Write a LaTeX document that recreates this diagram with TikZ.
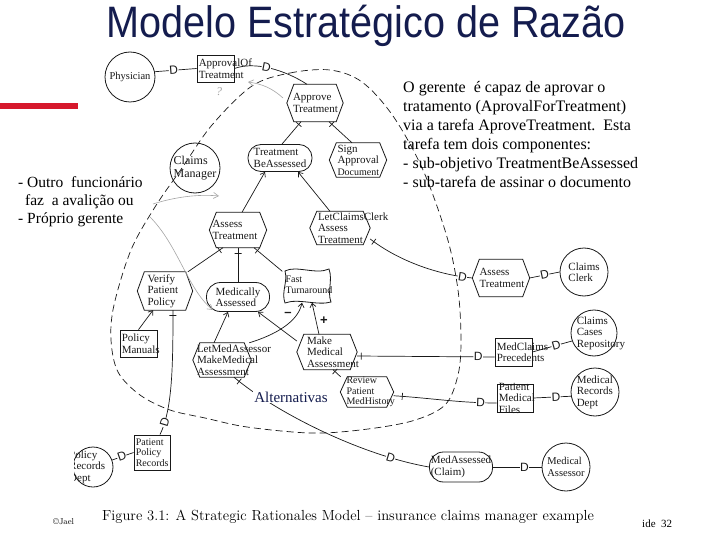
\documentclass[tikz,border=0pt]{standalone}
\usepackage{fontspec}
\usepackage{graphicx}
\newfontfamily\tms{Liberation Serif}
\newfontfamily\arial{Liberation Sans}
\usetikzlibrary{arrows.meta}
\definecolor{navy}{RGB}{20,28,78}
\definecolor{redbar}{RGB}{214,24,44}
\definecolor{ink}{RGB}{25,25,25}
\definecolor{pencil}{RGB}{165,165,165}
\newcommand\hexa[5]{%
  \node[minimum width=#4pt, minimum height=#5pt, inner sep=0pt] (#1) at (#2,#3) {};
  \draw[shp] (#1.west) -- ([xshift=7pt]#1.north west) -- ([xshift=-7pt]#1.north east) -- (#1.east) -- ([xshift=-7pt]#1.south east) -- ([xshift=7pt]#1.south west) -- cycle;}
\begin{document}
\begin{tikzpicture}[x=1pt, y=-1pt,
  shp/.style={draw=ink, line width=0.8pt},
  lab/.style={font=\fontsize{11}{11.5}\selectfont\tms, align=left, text=ink, inner sep=0pt},
  lab10/.style={lab, font=\fontsize{10}{10.5}\selectfont\tms},
  conn/.style={draw=ink, line width=0.7pt},
  me/.style={conn, -{Straight Barb[length=4pt, width=6pt]}},
  dtick/.style={sloped, draw=ink, line width=0.7pt, minimum width=0pt, minimum height=7pt, inner sep=0pt},
  dmark/.style={sloped, font=\fontsize{12}{12}\selectfont\arial, fill=white, inner sep=0.4pt, text=ink},
  bound/.style={draw=ink, line width=0.7pt, dash pattern=on 7pt off 4pt},
  pencilarrow/.style={draw=pencil, line width=0.6pt, -{Straight Barb[length=5pt, width=6pt]}},
]
\useasboundingbox (0,0) rectangle (720,540);
\fill[white] (0,0) rectangle (720,540);

% title and red bar
\node[anchor=base, text=navy, inner sep=0pt] (title) at (366,38) {\scalebox{0.9}[1]{\fontsize{44}{44}\selectfont\arial Modelo Estratégico de Razão}};
\fill[redbar] (0,103) rectangle (78,109);

% boundary of Claims Manager
\draw[bound] plot[smooth cycle, tension=0.55] coordinates {(252,86) (290,73) (330,70) (362,82) (393,116) (423,170) (447,237) (458,290) (461,340) (458,375) (445,405) (412,421) (360,430) (310,433) (247,427) (205,418) (170,410) (140,395) (118,372) (111,340) (114,305) (131,250) (155,207) (182,168) (212,125)};

% actors
\node[shp, circle, minimum size=50pt] (phys) at (130,77) {};
\node[lab, font=\fontsize{10.5}{11}\selectfont\tms] (phys-t) at (phys) {Physician};
\node[shp, circle, minimum size=50pt] (cm) at (195,168) {};
\node[lab, font=\fontsize{12}{13}\selectfont\tms] (cm-t) at (cm) {Claims\\Manager};
\node[shp, circle, minimum size=48pt] (cc) at (584,272) {};
\node[lab] (cc-t) at (cc) {Claims\\Clerk};
\node[shp, circle, minimum size=46pt] (ccr) at (594,333) {};
\node[lab, anchor=west] (ccr-t) at ([xshift=6pt]ccr.west) {Claims\\Cases\\Repository};
\node[shp, circle, minimum size=48pt] (mrd) at (595,392) {};
\node[lab, anchor=west] (mrd-t) at ([xshift=6pt]mrd.west) {Medical\\Records\\Dept};
\node[shp, circle, minimum size=48pt] (ma) at (566,467) {};
\node[lab, font=\fontsize{10.5}{11.5}\selectfont\tms] (ma-t) at (ma) {Medical\\Assessor};
\begin{scope}
\clip (74,0) rectangle (720,540);
\node[shp, circle, minimum size=40pt] (prd) at (93,467) {};
\node[lab, anchor=west] (prd-t) at (69,467) {Policy\\Records\\Dept};
\end{scope}

% goals
\node[shp, rounded corners=13pt, minimum width=64pt, minimum height=27pt] (tba) at (280,158) {};
\node[lab] (tba-t) at (tba) {Treatment\\BeAssessed};
\node[shp, rounded corners=14pt, minimum width=63pt, minimum height=29pt] (mas) at (238,297) {};
\node[lab] (mas-t) at (mas) {Medically\\Assessed};
\node[shp, rounded corners=14pt, minimum width=63pt, minimum height=30pt] (mac) at (461,467) {};
\node[lab] (mac-t) at (mac) {MedAssessed\\(Claim)};

% tasks
\hexa{apt}{315}{103}{56}{37}
\node[lab, anchor=west] (apt-t) at ([xshift=6pt]apt.west) {Approve\\Treatment};
\hexa{sad}{358}{160}{57}{34}
\node[lab, anchor=west] (sad-t) at ([xshift=8pt]sad.west) {Sign\\Approval\\{\fontsize{10}{10}\selectfont Document}};
\hexa{ati}{238}{230}{57}{35}
\node[lab, anchor=west] (ati-t) at ([xshift=3pt]ati.west) {Assess\\Treatment};
\hexa{lcc}{340}{228}{60}{33}
\node[lab, anchor=west] (lcc-t) at ([xshift=8pt]lcc.west) {LetClaimsClerk\\Assess\\Treatment};
\hexa{ate}{501}{278}{57}{37}
\node[lab, anchor=west] (ate-t) at ([xshift=7pt]ate.west) {Assess\\Treatment};
\hexa{vpp}{165}{291}{55}{38}
\node[lab, anchor=west] (vpp-t) at ([xshift=10pt]vpp.west) {Verify\\Patient\\Policy};
\hexa{lma}{222}{360}{58}{34}
\node[lab, anchor=west] (lma-t) at ([xshift=4pt]lma.west) {LetMedAssessor\\MakeMedical\\Assessment};
\hexa{mma}{327}{352}{60}{35}
\node[lab, anchor=west] (mma-t) at ([xshift=10pt]mma.west) {Make\\Medical\\Assessment};
\hexa{rpm}{367}{392}{53}{30}
\node[lab10, anchor=west] (rpm-t) at ([xshift=6pt]rpm.west) {Review\\Patient\\MedHistory};

% resources
\node[shp, minimum width=37pt, minimum height=27pt] (aot) at (215.5,68.5) {};
\node[lab, anchor=west] (aot-t) at ([xshift=2pt]aot.west) {ApprovalOf\\Treatment};
\node[shp, minimum width=37pt, minimum height=27pt] (pm) at (138.5,343.5) {};
\node[lab, anchor=west] (pm-t) at ([xshift=2pt]pm.west) {Policy\\Manuals};
\node[shp, minimum width=36pt, minimum height=35pt] (ppr) at (152,452.5) {};
\node[lab10, anchor=west] (ppr-t) at ([xshift=2pt]ppr.west) {Patient\\Policy\\Records};
\node[shp, minimum width=37pt, minimum height=28pt] (mcp) at (513.5,352) {};
\node[lab, anchor=west] (mcp-t) at ([xshift=2pt]mcp.west) {MedClaims\\Precedents};
\node[shp, minimum width=36pt, minimum height=28pt] (pmf) at (515,398) {};
\node[lab, anchor=west] (pmf-t) at ([xshift=2pt]pmf.west) {Patient\\Medical\\Files};

% softgoal
\node[minimum width=47pt, minimum height=35pt, inner sep=0pt] (ft) at (306,285) {};
\draw[shp] (285,271) .. controls (296,265) and (316,275) .. (329,269) .. controls (333,280) and (327,292) .. (331,302) .. controls (318,306) and (298,298) .. (285,303) .. controls (281,292) and (288,282) .. (285,271) -- cycle;
\node[lab10, anchor=west] (ft-t) at ([xshift=3pt]ft.west) {Fast\\Turnaround};

% connectors
\draw[conn] (phys.12) -- (aot.west) node[dmark, pos=0.45]{D};
\draw[conn] (aot.east) .. controls (255,61) and (285,70) .. ([xshift=-8pt]apt.north) node[dmark, pos=0.45]{D};
\draw[conn] ([xshift=-14pt]apt.south) -- ([xshift=2pt]tba.north) node[dtick, pos=0.12]{};
\draw[conn] ([xshift=14pt]apt.south) -- ([xshift=-6pt]sad.north) node[dtick, pos=0.12]{};
\draw[me] ([xshift=4pt]ati.north) -- ([xshift=-15pt]tba.south);
\draw[me] ([xshift=-10pt]lcc.north) -- ([xshift=18pt]tba.south);
\draw[conn] (lcc.-20) .. controls (400,262) and (440,275) .. (ate.west) node[dtick, pos=0.04]{} node[dmark, pos=0.9]{D};
\draw[conn] (ate.east) -- (cc.west) node[dmark, pos=0.5]{D};
\draw[conn] ([xshift=-15pt]ati.south) -- (vpp.40) node[dtick, pos=0.1]{};
\draw[conn] (ati.south) -- (mas.north) node[dtick, pos=0.15]{};
\draw[conn] ([xshift=16pt]ati.south) -- (ft.150) node[dtick, pos=0.12]{};
\draw[me] (pm.north) -- ([xshift=-12pt]vpp.south);
\draw[conn] ([xshift=8pt]vpp.south) .. controls (173,370) and (172,410) .. ([xshift=8pt]ppr.north) node[dtick, pos=0.03]{} node[dmark, pos=0.85]{D};
\draw[conn] (prd.20) -- (ppr.west) node[dmark, pos=0.45]{D};
\draw[me] ([xshift=-8pt]lma.north) -- ([xshift=-10pt]mas.south);
\draw[me] ([xshift=-2pt]lma.north east) .. controls (275,335) and (298,322) .. ([xshift=-4pt]ft.south);
\draw[me] (mma.160) -- ([xshift=20pt]mas.south);
\draw[me] ([xshift=-8pt]mma.north) -- ([xshift=6pt]ft.south);
\draw[conn] ([xshift=6pt]mma.south) -- (rpm.150) node[dtick, pos=0.25]{};
\draw[conn] ([yshift=-4pt]mma.east) -- ([yshift=-5pt]mcp.west) node[dtick, pos=0.03]{} node[dmark, pos=0.88]{D};
\draw[conn] (mcp.east) -- (ccr.200) node[dmark, pos=0.6]{D};
\draw[conn] (rpm.-8) .. controls (430,398) and (460,403) .. ([yshift=-5pt]pmf.west) node[dtick, pos=0.08]{} node[dmark, pos=0.85]{D};
\draw[conn] (pmf.east) -- (mrd.190) node[dmark, pos=0.6]{D};
\draw[conn] ([xshift=12pt]lma.south) .. controls (275,412) and (360,455) .. (mac.west) node[dtick, pos=0.04]{} node[dmark, pos=0.82]{D};
\draw[conn] (mac.east) -- (ma.west) node[dmark, pos=0.65]{D};

% contribution labels
\node[font=\fontsize{13}{13}\selectfont\bfseries\arial, text=ink] (minus) at (288,314) {–};
\node[font=\fontsize{13}{13}\selectfont\bfseries\arial, text=ink] (plus) at (324,321) {+};

% pencil annotations
\draw[pencilarrow] (153,204) .. controls (175,197) and (198,194) .. (219,196);
\draw[pencilarrow] (150,217) .. controls (178,245) and (188,290) .. (213,310);
\node[text=pencil, font=\fontsize{12}{12}\selectfont\tms\itshape] (qmark) at (219,92) {?};
\draw[pencilarrow] (283,98) .. controls (272,88) and (262,84) .. (248,82);

% texts
\node[anchor=north west, align=left, text=black, inner sep=0pt, font=\fontsize{16}{19}\selectfont\tms] (note) at (403,81) {O gerente\ \ é capaz de aprovar o\\tratamento (AprovalForTreatment)\\via a tarefa AproveTreatment.\ \ Esta\\tarefa tem dois componentes:\\- sub-objetivo TreatmentBeAssessed\\- sub-tarefa de assinar o documento};
\node[anchor=north west, align=left, text=black, inner sep=0pt, font=\fontsize{15.5}{18.3}\selectfont\tms] (lnote) at (18,176) {- Outro\ \ funcionário\\\hspace*{7pt}faz\ \ a avalição ou\\- Próprio gerente};
\node[anchor=base, text=navy, fill=white, inner sep=1pt, font=\fontsize{15}{15}\selectfont\tms] (alt) at (291,402) {Alternativas};
\node[anchor=base, inner sep=0pt, font=\fontsize{14.6}{14.6}\selectfont] (caption) at (348,520) {Figure 3.1: A Strategic Rationales Model -- insurance claims manager example};
\node[anchor=base west, inner sep=0pt, font=\fontsize{8.5}{8.5}\selectfont] (copy) at (53,524) {©Jael};
\node[anchor=base west, inner sep=0pt, font=\fontsize{11}{11}\selectfont\tms] (slide) at (642,527) {ide\ \ 32};
\end{tikzpicture}
\end{document}
